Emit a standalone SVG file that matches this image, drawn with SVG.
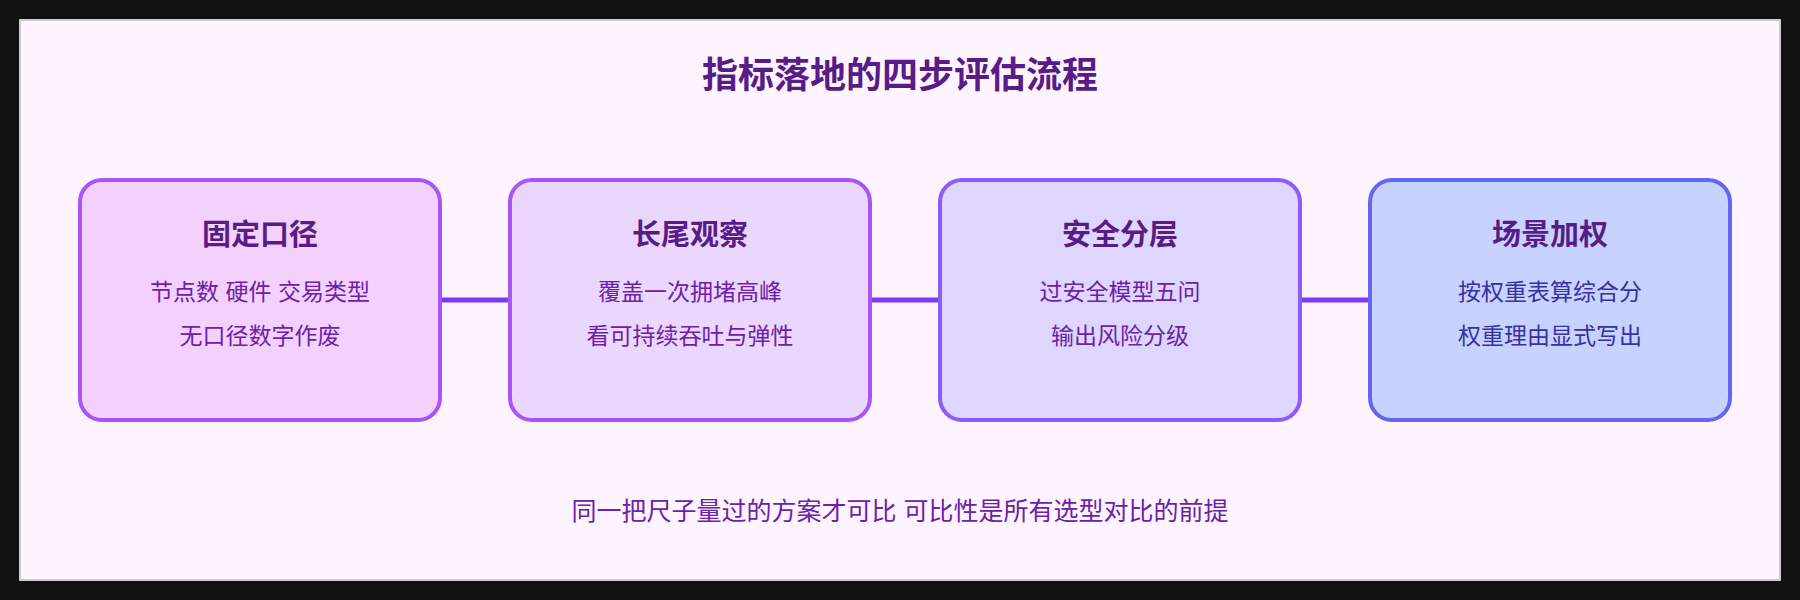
<svg xmlns="http://www.w3.org/2000/svg" width="1800" height="600" viewBox="0 0 1800 600">
<style>
text{font-family:"Liberation Sans","Noto Sans CJK SC",sans-serif;text-anchor:middle}
.t{font-size:36px;font-weight:bold;fill:#581c87}
.h{font-size:29px;font-weight:bold;fill:#581c87}
.b{font-size:23px;fill:#6b21a8}
.f{font-size:25px;fill:#6b21a8}
.box{stroke-width:4}
.c{stroke:#7c3aed;stroke-width:5}
</style>
<rect width="1800" height="600" fill="#111111"/>
<rect x="20" y="20" width="1760" height="560" fill="#fdf4ff" stroke="#cccccc" stroke-width="2"/>
<text class="t" x="900" y="88">指标落地的四步评估流程</text>
<g id="connectors">
<line class="c" x1="441" y1="300" x2="509" y2="300"/>
<line class="c" x1="871" y1="300" x2="939" y2="300"/>
<line class="c" x1="1301" y1="300" x2="1369" y2="300"/>
</g>
<g id="n1"><rect class="box" x="80" y="180" width="360" height="240" rx="22" fill="#f3d1fc" stroke="#a855f7"/>
<text class="h" x="260" y="245">固定口径</text><text class="b" x="260" y="300">节点数 硬件 交易类型</text><text class="b" x="260" y="344">无口径数字作废</text></g>
<g id="n2"><rect class="box" x="510" y="180" width="360" height="240" rx="22" fill="#ebd6fd" stroke="#a855f7"/>
<text class="h" x="690" y="245">长尾观察</text><text class="b" x="690" y="300">覆盖一次拥堵高峰</text><text class="b" x="690" y="344">看可持续吞吐与弹性</text></g>
<g id="n3"><rect class="box" x="940" y="180" width="360" height="240" rx="22" fill="#ded6fe" stroke="#8b5cf6"/>
<text class="h" x="1120" y="245">安全分层</text><text class="b" x="1120" y="300">过安全模型五问</text><text class="b" x="1120" y="344">输出风险分级</text></g>
<g id="n4"><rect class="box" x="1370" y="180" width="360" height="240" rx="22" fill="#c7d2fe" stroke="#6366f1"/>
<text class="h" x="1550" y="245">场景加权</text><text class="b" x="1550" y="300" fill="#3730a3" style="fill:#3730a3">按权重表算综合分</text><text class="b" x="1550" y="344" style="fill:#3730a3">权重理由显式写出</text></g>
<text class="f" x="900" y="520">同一把尺子量过的方案才可比 可比性是所有选型对比的前提</text>
</svg>
